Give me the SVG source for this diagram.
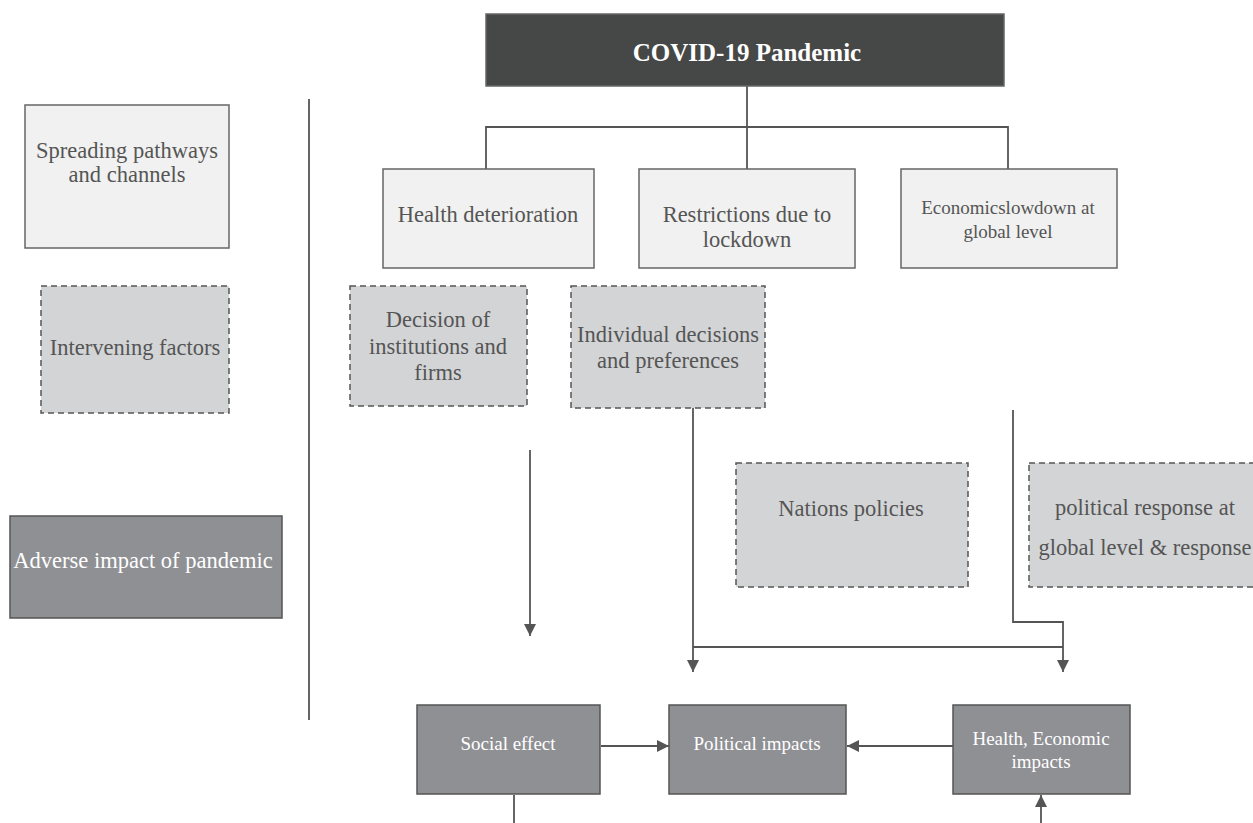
<svg xmlns="http://www.w3.org/2000/svg" width="1253" height="823" viewBox="0 0 1253 823">
<style>
.light{fill:#f0f1f0;stroke:#666;stroke-width:1.5}
.dash{fill:#d3d4d6;stroke:#555;stroke-width:1.5;stroke-dasharray:6 4}
.dark{fill:#8f9094;stroke:#555;stroke-width:1.5}
.t{font-size:22.5px;fill:#555;text-anchor:middle}
.w{font-size:19px;fill:#fff;text-anchor:middle}
.c{fill:none;stroke:#555;stroke-width:1.8}
</style>
<defs>
<marker id="ah" markerUnits="userSpaceOnUse" markerWidth="12" markerHeight="14" refX="12" refY="6" orient="auto">
<path d="M0,0 L12,6 L0,12 Z" fill="#555"/>
</marker>
</defs>
<rect width="1253" height="823" fill="#fff"/>
<g id="connectors">
<line class="c" x1="309" y1="99" x2="309" y2="720"/>
<line class="c" x1="747" y1="86" x2="747" y2="170"/>
<polyline class="c" points="486,169 486,127 1008,127 1008,169"/>
<line class="c" x1="530" y1="450" x2="530" y2="636" marker-end="url(#ah)"/>
<line class="c" x1="693" y1="408" x2="693" y2="672" marker-end="url(#ah)"/>
<line class="c" x1="693" y1="647" x2="1063" y2="647"/>
<polyline class="c" points="1013,410 1013,622 1063,622 1063,672" marker-end="url(#ah)"/>
<line class="c" x1="601" y1="746" x2="669" y2="746" marker-end="url(#ah)"/>
<line class="c" x1="953" y1="746" x2="847" y2="746" marker-end="url(#ah)"/>
<line class="c" x1="514" y1="795" x2="514" y2="823"/>
<line class="c" x1="1041" y1="823" x2="1041" y2="795" marker-end="url(#ah)"/>
</g>
<g font-family="Liberation Serif, Times New Roman, serif">
<g id="covid">
<rect x="486" y="14" width="518" height="72" fill="#464747" stroke="#666" stroke-width="1.5"/>
<text x="747" y="61" font-size="25" font-weight="bold" fill="#fff" text-anchor="middle">COVID-19 Pandemic</text>
</g>
<g id="legend-spreading">
<rect class="light" x="25" y="105" width="204" height="143"/>
<text class="t" x="127" y="158">Spreading pathways</text>
<text class="t" x="127" y="182">and channels</text>
</g>
<g id="legend-intervening">
<rect class="dash" x="41" y="286" width="188" height="127"/>
<text class="t" x="135" y="355">Intervening factors</text>
</g>
<g id="legend-adverse">
<rect class="dark" x="10" y="516" width="272" height="102"/>
<text class="t" x="143" y="568" style="fill:#fff">Adverse impact of pandemic</text>
</g>
<g id="health">
<rect class="light" x="383" y="169" width="211" height="99"/>
<text class="t" x="488" y="222">Health deterioration</text>
</g>
<g id="restrictions">
<rect class="light" x="639" y="169" width="216" height="99"/>
<text class="t" x="747" y="222">Restrictions due to</text>
<text class="t" x="747" y="247">lockdown</text>
</g>
<g id="economic">
<rect class="light" x="901" y="169" width="216" height="99"/>
<text class="t" x="1008" y="214" style="font-size:19px">Economicslowdown at</text>
<text class="t" x="1008" y="238" style="font-size:19px">global level</text>
</g>
<g id="decision">
<rect class="dash" x="350" y="286" width="177" height="120"/>
<text class="t" x="438" y="327">Decision of</text>
<text class="t" x="438" y="354">institutions and</text>
<text class="t" x="438" y="380">firms</text>
</g>
<g id="individual">
<rect class="dash" x="571" y="286" width="194" height="122"/>
<text class="t" x="668" y="342">Individual decisions</text>
<text class="t" x="668" y="368">and preferences</text>
</g>
<g id="nations">
<rect class="dash" x="736" y="463" width="232" height="124"/>
<text class="t" x="851" y="516">Nations policies</text>
</g>
<g id="political-response">
<rect class="dash" x="1029" y="463" width="230" height="124"/>
<text class="t" x="1145" y="515">political response at</text>
<text class="t" x="1145" y="555">global level &amp; response</text>
</g>
<g id="social">
<rect class="dark" x="417" y="705" width="183" height="89"/>
<text class="w" x="508" y="750">Social effect</text>
</g>
<g id="political">
<rect class="dark" x="669" y="705" width="177" height="89"/>
<text class="w" x="757" y="750">Political impacts</text>
</g>
<g id="health-economic">
<rect class="dark" x="953" y="705" width="177" height="89"/>
<text class="w" x="1041" y="745">Health, Economic</text>
<text class="w" x="1041" y="768">impacts</text>
</g>
</g>
</svg>
